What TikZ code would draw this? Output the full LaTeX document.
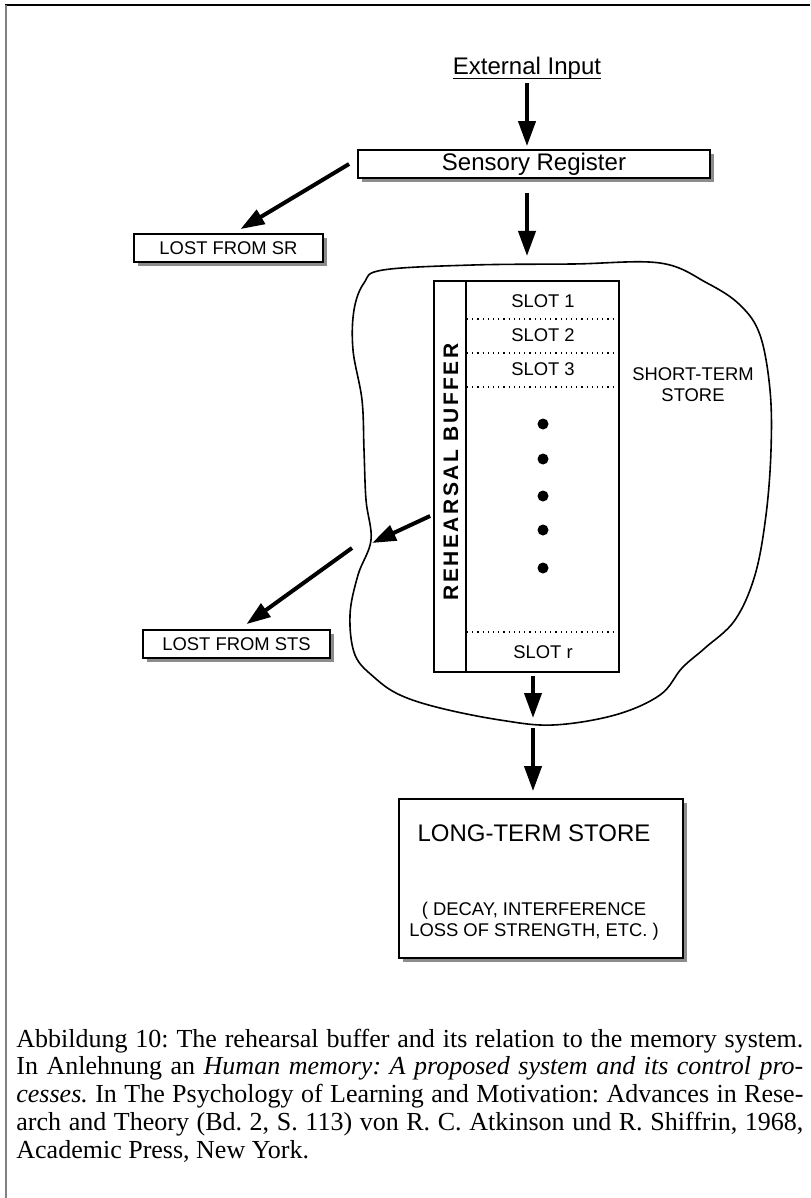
\documentclass[tikz,border=0pt]{standalone}
\usepackage{fontspec}
\setmainfont{Liberation Serif}
\setsansfont{Liberation Sans}
\usetikzlibrary{arrows.meta,shadows}

\begin{document}
\frenchspacing
\begin{tikzpicture}[x=0.5pt,y=-0.5pt,font=\sffamily,
  flow/.style={line width=2pt,-{Triangle[width=8.5pt,length=12.5pt]}},
  leak/.style={line width=2pt,-{Triangle[width=8pt,length=12pt]}},
  regbox/.style={draw,line width=0.9pt,fill=white,inner sep=0pt,
    drop shadow={shadow xshift=2pt,shadow yshift=-2pt,opacity=1,fill=black!45}},
  slotline/.style={line width=0.6pt,dotted},
  small/.style={font=\sffamily\fontsize{9.2}{10.5}\selectfont},
  large/.style={font=\sffamily\fontsize{12}{14}\selectfont}]
\useasboundingbox (0,0) rectangle (810,1198);
\draw[line width=1pt] (5,5) -- (810,5);
\draw[black!50,line width=1pt] (6,5) -- (6,1198);

\node[large,inner sep=0pt,anchor=base] (ext) at (527,75) {External Input};
\draw[line width=0.6pt] ([yshift=-1.6pt]ext.base west) -- ([yshift=-1.6pt]ext.base east);
\node[regbox,large,minimum width=176pt,minimum height=14pt] (sr) at (534,164) {Sensory Register};
\node[regbox,small,minimum width=94.5pt,minimum height=14pt] (lostsr) at (228.5,248) {LOST FROM SR};

\draw[line width=0.8pt] plot[smooth cycle,tension=0.6] coordinates {
  (383,270) (473,265) (573,264) (660,263) (707,283) (740,305) (760,335)
  (770,390) (771,450) (766,515) (755,575) (735,620) (705,648) (682,668)
  (660,695) (615,715) (553,725) (500,720) (440,708) (400,695) (375,678)
  (355,655) (350,615) (358,575) (371,540) (366,500) (364,450) (362,400)
  (353,350) (354,310) (364,283)};
\coordinate (stsin) at (527,256);
\coordinate (stsedge) at (372,543);
\coordinate (stsout) at (352,548);
\coordinate (stsbot) at (533,718);
\coordinate (stsfloor) at (533,728);
\node[small,align=center] (stslbl) at (693,385) {SHORT-TERM\\STORE};

\node[draw,line width=0.9pt,minimum width=92.5pt,minimum height=195.5pt,inner sep=0pt] (buf) at (526.5,476.5) {};
\draw[line width=0.9pt] ([xshift=16.5pt]buf.north west) -- ([xshift=16.5pt]buf.south west);
\node[rotate=90,inner sep=0pt,font=\sffamily\bfseries\fontsize{10.5}{12}\selectfont\addfontfeature{LetterSpace=12}] (rb) at (451,472) {REHEARSAL BUFFER};
\foreach \y in {319,353,387,632}
  \draw[slotline] (467,\y) -- (617,\y);
\foreach \n/\y in {1/301,2/335,3/369,r/652}
  \node[small] (slot\n) at (543,\y) {SLOT \n};
\foreach \y in {424,459,496,530,568}
  \fill (543,\y) circle (2.75pt);

\node[regbox,small,minimum width=93.5pt,minimum height=14pt] (loststs) at (236.5,644) {LOST FROM STS};
\node[regbox,minimum width=142pt,minimum height=79.5pt] (ltm) at (541,878.5) {};
\node[large] (ltmtitle) at (534,833) {LONG-TERM STORE};
\node[small,align=center] (ltmnote) at (534,921.5) {( DECAY, INTERFERENCE\\LOSS OF STRENGTH, ETC. )};

\draw[flow,shorten <=1.5pt,shorten >=1.5pt] (ext.south) -- (ext.south |- sr.north);
\draw[flow,shorten <=7pt] (sr.south -| ext.south) -- (stsin);
\draw[leak] ([xshift=-4pt]sr.west) -- ([xshift=6pt,yshift=2pt]lostsr.north);
\draw[leak] ([shift={(-1.5pt,-19.75pt)}]buf.west) -- (stsedge);
\draw[leak] (stsout) -- ([xshift=5pt,yshift=2.5pt]loststs.north);
\draw[flow] ([xshift=3.25pt,yshift=-1.5pt]buf.south) -- (stsbot);
\draw[flow,shorten >=3.5pt] (stsfloor) -- (stsfloor |- ltm.north);

\node[anchor=north west,inner sep=0pt,text width=393.5pt,align=justify,
  font=\rmfamily\fontsize{13}{13.85}\selectfont] (caption) at (16,1028.5)
  {Abbildung 10: The rehearsal buffer and its relation to the memory system.\linebreak
   In Anlehnung an \emph{Human memory: A proposed system and its control pro-}\linebreak
   \emph{cesses.} In The Psychology of Learning and Motivation: Advances in Rese-\linebreak
   arch and Theory (Bd.~2, S.~113) von R.~C. Atkinson und R. Shiffrin, 1968,\linebreak
   Academic Press, New York.};
\end{tikzpicture}
\end{document}
